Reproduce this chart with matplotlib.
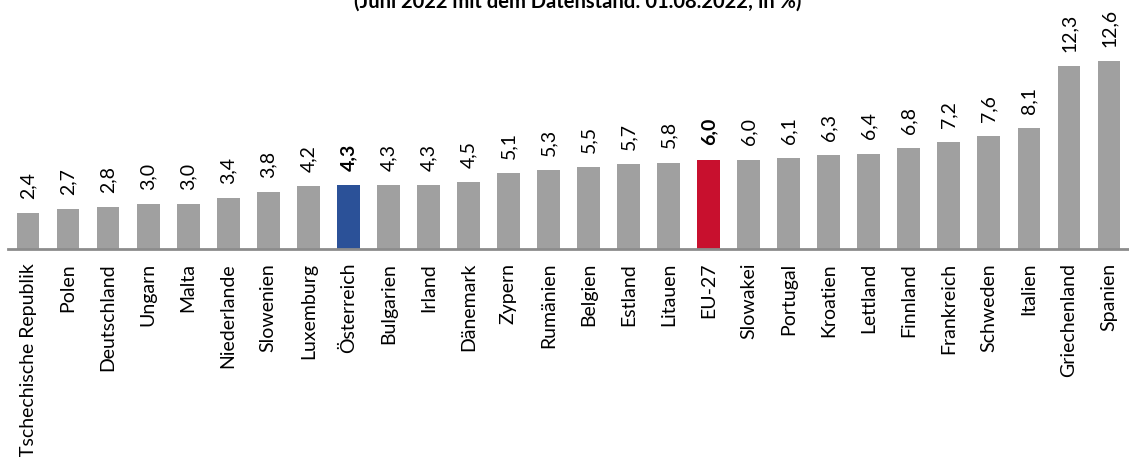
import matplotlib
matplotlib.use("Agg")
import matplotlib.pyplot as plt

countries = ["Tschechische Republik", "Polen", "Deutschland", "Ungarn", "Malta", "Niederlande",
             "Slowenien", "Luxemburg", "Österreich", "Bulgarien", "Irland", "Dänemark", "Zypern",
             "Rumänien", "Belgien", "Estland", "Litauen", "EU-27", "Slowakei", "Portugal",
             "Kroatien", "Lettland", "Finnland", "Frankreich", "Schweden", "Italien",
             "Griechenland", "Spanien"]
values = [2.4, 2.7, 2.8, 3.0, 3.0, 3.4, 3.8, 4.2, 4.3, 4.3, 4.3, 4.5, 5.1, 5.3, 5.5, 5.7,
          5.8, 6.0, 6.0, 6.1, 6.3, 6.4, 6.8, 7.2, 7.6, 8.1, 12.3, 12.6]
highlight = {"Österreich": "#2B5198", "EU-27": "#C8102E"}
title = "(Juni 2022 mit dem Datenstand: 01.08.2022; in %)"

plt.rcParams['font.family'] = ['Lato', 'DejaVu Sans']

fig = plt.figure(figsize=(11.29, 4.57), dpi=100)
ax = fig.add_axes([8/1129, 1 - 249/457, 1 - 8/1129, 249/457])

x = list(range(len(countries)))
colors = [highlight.get(c, "#A0A0A0") for c in countries]
ax.bar(x, values, width=0.57, color=colors, zorder=2)

for xi, v, c in zip(x, values, countries):
    bold = c in highlight
    ax.text(xi, v + 0.95, f"{v:.1f}".replace(".", ","), rotation=90, ha="center", va="bottom",
            fontsize=14, fontweight="bold" if bold else "normal", color="black")

ax.set_xlim(-0.5, len(countries) - 0.5)
ax.set_ylim(0, 249/14.9)
ax.set_xticks(x)
ax.set_xticklabels(countries, rotation=90, fontsize=14)
ax.tick_params(axis="x", length=0, pad=10)
ax.set_yticks([])
for s in ["top", "right", "left"]:
    ax.spines[s].set_visible(False)
ax.spines["bottom"].set_color("#8C8C8C")
ax.spines["bottom"].set_linewidth(2)
ax.patch.set_alpha(0)

fig.text(0.512, 1 + 8/457, title, ha="center", va="top", fontsize=14.5, fontweight="bold")

fig.savefig("out.png", dpi=100)
